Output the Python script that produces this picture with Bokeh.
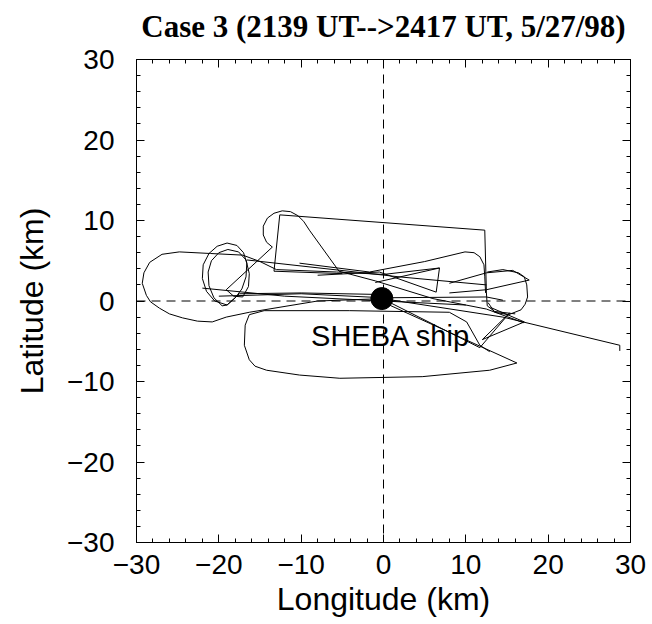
from bokeh.plotting import figure
from bokeh.models import Range1d, FixedTicker, LinearAxis, Span, CustomLabelingPolicy
from bokeh.core.properties import value
from bokeh.embed import file_html
from bokeh.resources import INLINE

# ---- data (km) ----
major_ticks = [-30, -20, -10, 0, 10, 20, 30]
minor_ticks = [-28, -26, -24, -22, -18, -16, -14, -12, -8, -6, -4, -2,
               2, 4, 6, 8, 12, 14, 16, 18, 22, 24, 26, 28]
tick_labels = {-30: "\u221230", -20: "\u221220", -10: "\u221210", 0: "0",
               10: "10", 20: "20", 30: "30"}

leg_a_x = [0.0, -8.0, -16.3, -19.1, -20.8, -22.6, -24.4, -26.0, -27.2, -28.3, -28.8, -29.3, -29.1, -28.4, -26.9, -24.8, -21.0, -17.1, -15.0, -13.0, -5.7, 0.0, 6.8]
leg_a_y = [0.3, 0.0, -1.4, -2.0, -2.6, -2.5, -2.1, -1.6, -0.9, -0.1, 0.7, 2.2, 3.5, 4.8, 5.8, 6.1, 5.9, 5.7, 4.9, 3.9, 3.6, 3.3, 4.1]

leg_b_x = [0.0, -10.0, -17.5, -19.0, -20.5, -21.5, -22.0, -21.9, -21.2, -20.2, -19.0, -17.8, -17.0, -16.6, -16.7, -17.2, -18.0, -19.0, -19.6, -20.6, -21.2, -21.3, -20.9, -20.0, -18.9, -17.6, -16.7, -16.3, -16.4, -17.1, -18.2, -19.1]
leg_b_y = [0.8, 1.0, 0.9, -0.5, 0.0, 1.2, 2.8, 4.5, 5.9, 6.8, 7.2, 6.9, 6.0, 4.7, 3.0, 1.5, 0.4, -0.5, -0.6, 0.4, 1.9, 3.6, 5.0, 6.0, 6.4, 6.1, 5.1, 3.4, 1.8, 0.5, 0.6, 1.4]

leg_c_x = [-19.1, -13.5, -14.2, -14.6, -14.6, -14.1, -13.3, -12.3, -11.3, -10.4, -9.7, -9.0, -5.4, -1.0, 6.0, 12.5, 17.0]
leg_c_y = [1.4, 6.7, 7.3, 8.2, 9.3, 10.3, 10.9, 11.2, 11.1, 10.6, 9.9, 8.8, 3.7, 2.5, 0.3, -1.0, -2.7]

leg_d_x = [-5.0, -13.3, -12.6, 12.3, 12.5, 12.6, 13.5, 16.0]
leg_d_y = [3.4, 3.7, 10.7, 8.8, 1.0, -0.6, -1.3, -1.6]

leg_e_x = [-10.2, -1.7, 5.0, 9.9, 11.0, 11.7, 12.2, 12.3, 12.4]
leg_e_y = [4.7, 3.6, 4.9, 6.1, 6.0, 5.5, 4.5, 3.0, 1.0]

leg_f_x = [0.5, 16.2, 12.9, 4.7, -5.3, -10.2, -14.2, -15.6, -16.3, -16.9, -16.8, -16.3, -14.5, -4.1, 8.0, 10.1, 11.7, 12.9]
leg_f_y = [-0.4, -7.7, -8.6, -9.4, -9.6, -9.2, -8.6, -8.1, -7.3, -5.5, -3.0, -1.7, -1.2, -1.2, -1.4, -2.6, -5.5, -6.3]

leg_g_x = [0.5, 14.5, 28.7, 28.7]
leg_g_y = [0.2, -2.0, -5.5, -6.2]

leg_h_x = [-1.0, 6.8, 6.4, -0.5, -8.0]
leg_h_y = [2.3, 4.1, 1.1, 3.6, 3.2]

leg_i_x = [8.0, 12.5, 15.7, 17.7, 12.5, 8.0]
leg_i_y = [2.2, 3.5, 3.8, 2.6, 1.4, 1.0]

leg_i2_x = [12.6, 14.5, 16.4, 17.1, 17.4, 17.5, 17.2, 16.7, 15.2, 13.5, 12.7]
leg_i2_y = [3.6, 3.9, 3.5, 3.0, 2.0, 0.5, -0.4, -1.1, -1.7, -1.4, -0.2]

leg_j_x = [1.0, 11.7, 15.3, 12.0, 17.1, 13.0]
leg_j_y = [-0.3, -5.8, -1.5, -4.8, -2.6, -0.8]

leg_k_x = [-20.0, -10.0, 0.0, 12.5, 14.5]
leg_k_y = [0.6, 0.9, 0.4, 0.5, 0.1]

leg_l_x = [-22.0, -12.0, 0.0, 10.0]
leg_l_y = [1.6, 0.6, 0.0, -0.5]

leg_m_x = [-16.6, 1.9, 12.5]
leg_m_y = [5.1, 3.0, 2.0]

ship_x = [-0.2]
ship_y = [0.3]
ship_label = ["SHEBA ship"]
ship_label_x = [-8.8]
ship_label_y = [-4.3]

legs_x = [leg_a_x, leg_b_x, leg_c_x, leg_d_x, leg_e_x, leg_f_x, leg_g_x,
          leg_h_x, leg_i_x, leg_i2_x, leg_j_x, leg_k_x, leg_l_x, leg_m_x]
legs_y = [leg_a_y, leg_b_y, leg_c_y, leg_d_y, leg_e_y, leg_f_y, leg_g_y,
          leg_h_y, leg_i_y, leg_i2_y, leg_j_y, leg_k_y, leg_l_y, leg_m_y]

SANS = "Liberation Sans"

p = figure(frame_width=494, frame_height=483,
           x_range=Range1d(-30, 30), y_range=Range1d(-30, 30),
           output_backend="svg", toolbar_location=None,
           min_border_left=136, min_border_right=14,
           min_border_top=59, min_border_bottom=78)

p.title.text = "Case 3 (2139 UT-->2417 UT, 5/27/98)"
p.title.text_font = "Liberation Serif"
p.title.text_font_style = "bold"
p.title.text_font_size = "31px"
p.title.align = "center"
p.title.text_color = "black"

p.xgrid.visible = False
p.ygrid.visible = False
p.outline_line_color = "black"
p.outline_line_width = 1
p.background_fill_color = "white"
p.border_fill_color = "white"

no_labels = CustomLabelingPolicy(code="""
for (const i of Array.from(indices)) { indices.unset(i) }
return indices
""")

def style_axis(ax, show_labels=True):
    ax.ticker = FixedTicker(ticks=major_ticks, minor_ticks=minor_ticks)
    ax.major_tick_in = 8
    ax.major_tick_out = 0
    ax.minor_tick_in = 4
    ax.minor_tick_out = 0
    ax.axis_line_color = "black"
    ax.major_tick_line_color = "black"
    ax.minor_tick_line_color = "black"
    if show_labels:
        ax.major_label_overrides = tick_labels
        ax.major_label_text_font = SANS
        ax.major_label_text_font_size = "28px"
        ax.major_label_text_color = "black"
        ax.axis_label_text_font = SANS
        ax.axis_label_text_font_size = "32px"
        ax.axis_label_text_font_style = "normal"
        ax.axis_label_text_color = "black"
    else:
        ax.major_label_policy = no_labels
        ax.major_label_standoff = 0

style_axis(p.xaxis[0])
style_axis(p.yaxis[0])
p.xaxis.major_label_standoff = 12
p.yaxis.major_label_standoff = 22
p.xaxis.axis_label = "Longitude (km)"
p.yaxis.axis_label = "Latitude (km)"
p.xaxis.axis_label_standoff = 4
p.yaxis.axis_label_standoff = 14

top_ax = LinearAxis()
right_ax = LinearAxis()
style_axis(top_ax, False)
style_axis(right_ax, False)
p.add_layout(top_ax, "above")
p.add_layout(right_ax, "right")

p.add_layout(Span(location=0, dimension="height", line_color="black",
                  line_width=1, line_dash="9 6"))
p.add_layout(Span(location=0, dimension="width", line_color="black",
                  line_width=1, line_dash="9 6"))

p.multi_line(xs=legs_x, ys=legs_y, line_color="black", line_width=1)

p.scatter(x=ship_x, y=ship_y, size=22, color="black")
p.text(x=ship_label_x, y=ship_label_y, text=ship_label,
       text_font=value(SANS), text_font_size="29px",
       text_baseline="middle", text_align="left", text_color="black")

open("out.html", "w").write(file_html(p, INLINE))
